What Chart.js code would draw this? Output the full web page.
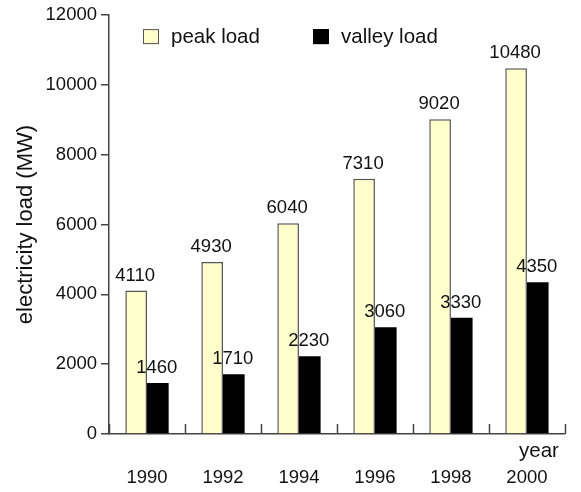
<!DOCTYPE html>
<html>
<head>
<meta charset="utf-8">
<script src="https://cdn.jsdelivr.net/npm/chart.js@4"></script>
<style>
  html, body { margin: 0; padding: 0; background: #fff; }
  #wrap { width: 581px; height: 492px; }
</style>
</head>
<body>
<div id="wrap"><canvas id="chart"></canvas></div>
<script>
// data
const years = ['1990', '1992', '1994', '1996', '1998', '2000'];
const peakLoad = [4110, 4930, 6040, 7310, 9020, 10480];
const valleyLoad = [1460, 1710, 2230, 3060, 3330, 4350];
const yTicks = [0, 2000, 4000, 6000, 8000, 10000, 12000];

const FONT = '"Liberation Sans", Arial, sans-serif';
const AXIS = '#444';

// value labels over each bar
const barLabels = {
  id: 'barLabels',
  afterDatasetsDraw(chart) {
    const ctx = chart.ctx;
    ctx.save();
    ctx.font = '18.5px ' + FONT;
    ctx.fillStyle = '#111';
    ctx.textAlign = 'center';
    ctx.textBaseline = 'alphabetic';
    chart.data.datasets.forEach((ds, di) => {
      chart.getDatasetMeta(di).data.forEach((bar, i) => {
        ctx.fillText(String(ds.data[i]), bar.x - 1, bar.y - 10);
      });
    });
    ctx.restore();
  }
};

// short ticks pointing up between the years, legend and "year" label
const extras = {
  id: 'extras',
  afterDraw(chart) {
    const ctx = chart.ctx;
    const area = chart.chartArea;
    const xs = chart.scales.x;
    ctx.save();
    ctx.strokeStyle = AXIS;
    ctx.lineWidth = 1.5;
    for (let i = 0; i <= years.length; i++) {
      const px = Math.round(xs.getPixelForValue(i - 0.5)) + 0.5;
      ctx.beginPath();
      ctx.moveTo(px, area.bottom);
      ctx.lineTo(px, area.bottom - 10);
      ctx.stroke();
    }

    ctx.font = '20.5px ' + FONT;
    ctx.fillStyle = '#111';
    ctx.textAlign = 'right';
    ctx.textBaseline = 'alphabetic';
    ctx.fillText('year', area.right - 6, area.bottom + 23);

    // legend
    const starts = [area.left + 34, area.left + 204];
    ctx.textAlign = 'left';
    ctx.textBaseline = 'middle';
    ctx.font = '20.5px ' + FONT;
    chart.data.datasets.forEach((ds, di) => {
      const lx = starts[di];
      const ly = area.top + 14;
      ctx.fillStyle = ds.backgroundColor;
      ctx.fillRect(lx, ly, 16, 15);
      ctx.strokeStyle = ds.borderColor;
      ctx.lineWidth = 1;
      ctx.strokeRect(lx + 0.5, ly + 0.5, 15, 14);
      ctx.fillStyle = '#111';
      ctx.fillText(ds.label, lx + 28, ly + 8);
    });
    ctx.restore();
  }
};

new Chart(document.getElementById('chart'), {
  type: 'bar',
  data: {
    labels: years,
    datasets: [
      {
        label: 'peak load',
        data: peakLoad,
        backgroundColor: '#ffffcc',
        borderColor: '#555',
        borderWidth: 1.5,
        borderSkipped: 'bottom'
      },
      {
        label: 'valley load',
        data: valleyLoad,
        backgroundColor: '#000000',
        borderColor: '#000000',
        borderWidth: 0
      }
    ]
  },
  options: {
    responsive: true,
    maintainAspectRatio: false,
    animation: false,
    layout: { padding: { top: 14, right: 6, left: 0, bottom: 0 } },
    plugins: {
      legend: { display: false },
      tooltip: { enabled: false }
    },
    datasets: {
      bar: { categoryPercentage: 0.57, barPercentage: 1.0 }
    },
    scales: {
      x: {
        offset: true,
        grid: { display: false, drawOnChartArea: false, drawTicks: false },
        border: { color: AXIS, width: 1.5 },
        ticks: {
          padding: 33,
          color: '#111',
          font: { family: FONT, size: 18.5 }
        },
        afterFit(scale) { scale.height = 58; }
      },
      y: {
        min: 0,
        max: 12000,
        afterBuildTicks(scale) {
          scale.ticks = yTicks.map(v => ({ value: v }));
        },
        grid: {
          drawOnChartArea: false,
          drawTicks: true,
          tickLength: 8,
          color: AXIS,
          lineWidth: 1.5
        },
        border: { color: AXIS, width: 1.5 },
        ticks: {
          padding: 4,
          color: '#111',
          font: { family: FONT, size: 18.5 },
          callback: v => String(v)
        },
        title: {
          display: true,
          text: 'electricity load (MW)',
          color: '#111',
          font: { family: FONT, size: 22 },
          padding: { top: 13, bottom: 0 }
        },
        afterFit(scale) { scale.width = 109; }
      }
    }
  },
  plugins: [barLabels, extras]
});
</script>
</body>
</html>
